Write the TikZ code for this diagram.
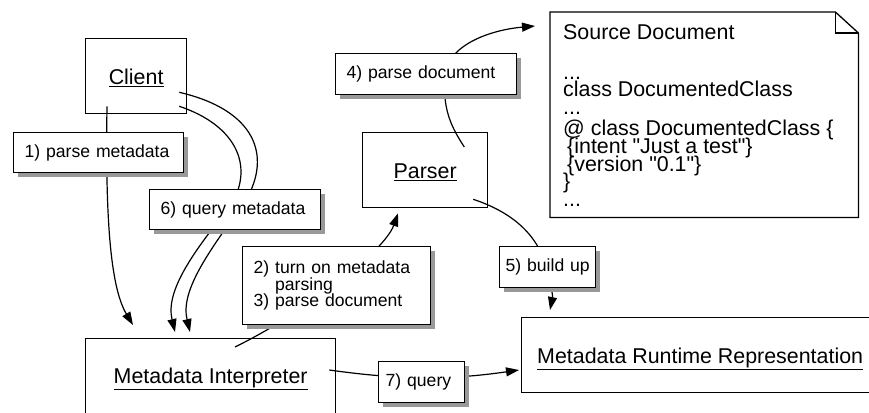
\documentclass[tikz,border=0pt]{standalone}
\usepackage{fontspec}
\setmainfont{Liberation Sans}[Ligatures=TeXOff]
\usetikzlibrary{arrows.meta,calc}
\newcommand\titlefont{\fontsize{21.4}{17.6}\selectfont\lineskiplimit=-50pt}
\newcommand\lblfont{\fontsize{17.6}{16.5}\selectfont\lineskiplimit=-50pt}
\tikzset{
  box/.style={draw, line width=1.3pt, fill=white, anchor=north west, inner sep=0pt, font=\titlefont,
    text height=17pt, text depth=0pt},
  lbl/.style={draw, line width=1.3pt, fill=white, anchor=north west, inner xsep=11pt, inner ysep=0pt,
    align=left, font=\lblfont},
  shadowbox/.style={fill=black!40, draw=none},
  link/.style={line width=1.2pt},
  arr/.style={-{Triangle[length=13pt,width=9pt]}}
}
\begin{document}
\begin{tikzpicture}[x=1pt,y=-1pt]
\useasboundingbox (0,0) rectangle (869,412);
\node[box, minimum width=101pt, minimum height=75pt] (client) at (85,38) {\underline{Client}};
\node[box, minimum width=125pt, minimum height=75pt] (parser) at (362,132) {\underline{Parser}};
\node[box, minimum width=250pt, minimum height=80pt, text depth=7pt] (interp) at (85,338) {\underline{Metadata Interpreter}};
\node[box, minimum width=357pt, minimum height=75pt] (runtime) at (521,317) {\underline{Metadata Runtime Representation}};
\node[anchor=north west, minimum width=308pt, minimum height=205pt, inner sep=0pt] (src) at (550,12) {};
\draw[line width=1.3pt, fill=white] (src.north west) -- ($(src.north east)+(-23,0)$) -- ($(src.north east)+(0,21)$)
  -- (src.south east) -- (src.south west) -- cycle;
\draw[line width=1.3pt] ($(src.north east)+(-23,0)$) |- ($(src.north east)+(0,21)$);
\node[anchor=north west, inner sep=0pt, align=left, font=\titlefont] (srctext) at (563,24)
  {Source Document\\[22.4pt]
   ...\\
   class DocumentedClass\\
   ...\\[4pt]
   @ class DocumentedClass \{\\
   \hspace*{4pt}\{intent "Just a test"\}\\
   \hspace*{4pt}\{version "0.1"\}\\
   \}\\
   ...};
\draw[link, arr] ($(client.south west)+(22,-8)$) .. controls (105,230) and (112,290) .. ($(interp.north west)+(48,-13)$);
\draw[link, arr] ($(client.south east)+(-8,-22)$) .. controls (255,110) and (272,155) .. (246,200)
  .. controls (210,250) and (180,290) .. ($(interp.north west)+(105,-6)$);
\draw[link, arr] ($(client.south east)+(-8,-8)$) .. controls (235,125) and (255,165) .. (231,205)
  .. controls (195,250) and (165,290) .. ($(interp.north west)+(90,-6)$);
\draw[link, arr] ($(interp.north west)+(150,9)$) .. controls (310,310) and (385,250) .. ($(parser.south west)+(36,5)$);
\draw[link, arr] ($(parser.north east)+(-24,15)$) .. controls (452,128) and (442,110) .. (445,75)
  .. controls (448,45) and (490,30) .. ($(src.north west)+(-15,14)$);
\draw[link, arr] ($(parser.south east)+(-15,-9)$) .. controls (505,210) and (533,228) .. (545,262)
  .. controls (550,280) and (553,295) .. ($(runtime.north west)+(29,-7)$);
\draw[link, arr] ($(interp.north east)+(-7,32)$) .. controls (400,380) and (450,380) .. ($(runtime.north west)+(-2,53)$);
\fill[shadowbox] (18,137) rectangle (188,177);
\fill[shadowbox] (154,194) rectangle (325,234);
\fill[shadowbox] (340,58) rectangle (521,99);
\fill[shadowbox] (247,251) rectangle (435,329);
\fill[shadowbox] (504,251) rectangle (600,292);
\fill[shadowbox] (383,366) rectangle (469,407);
\node[lbl, text width=148pt, minimum height=40pt] (q1) at (13,132) {1) parse metadata};
\node[lbl, text width=149pt, minimum height=40pt] (q6) at (149,189) {6) query metadata};
\node[lbl, text width=159pt, minimum height=41pt] (q4) at (335,53) {4) parse document};
\node[lbl, text width=166pt, minimum height=78pt] (q2) at (242,246) {2) turn on metadata\\\phantom{2) }parsing\\3) parse document};
\node[lbl, inner xsep=6pt, text width=84pt, minimum height=41pt] (q5) at (499,246) {5)~build~up};
\node[lbl, inner xsep=7pt, text width=72pt, minimum height=41pt] (q7) at (378,361) {7) query};
\end{tikzpicture}
\end{document}
